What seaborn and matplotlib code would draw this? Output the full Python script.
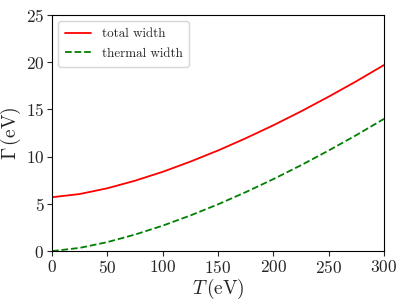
import numpy as np
import pandas as pd
import matplotlib
matplotlib.use("Agg")
import matplotlib.pyplot as plt
import seaborn as sns

# values
T = [0, 25, 50, 75, 100, 125, 150, 175, 200, 225, 250, 275, 300]
thermal = [0.0, 0.34, 0.95, 1.75, 2.69, 3.77, 4.95, 6.24, 7.62, 9.09, 10.65, 12.28, 14.0]
total = [5.7, 6.04, 6.65, 7.45, 8.39, 9.47, 10.65, 11.94, 13.32, 14.79, 16.35, 17.98, 19.7]

df = pd.DataFrame({"T": T, "total": total, "thermal": thermal})

sns.set_style("ticks")
plt.rcParams["font.family"] = "serif"
plt.rcParams["font.serif"] = ["cmr10", "DejaVu Serif"]
plt.rcParams["mathtext.fontset"] = "cm"
plt.rcParams["axes.formatter.use_mathtext"] = True

fig = plt.figure(figsize=(4.06, 3.04), dpi=100)
ax = fig.add_axes([0.128, 0.174, 0.818, 0.777])

sns.lineplot(data=df, x="T", y="total", color="red", lw=1.3, label="total width", ax=ax)
sns.lineplot(data=df, x="T", y="thermal", color="green", lw=1.3, ls="--", label="thermal width", ax=ax)

ax.set_xlim(0, 300)
ax.set_ylim(0, 25)
ax.set_xticks([0, 50, 100, 150, 200, 250, 300])
ax.set_yticks([0, 5, 10, 15, 20, 25])
ax.tick_params(labelsize=12.5, direction="out", length=3.5, width=0.8, pad=2)
for s in ax.spines.values():
    s.set_linewidth(0.8)
    s.set_color("black")
ax.set_xlabel(r"$T\,$(eV)", fontsize=14, labelpad=1)
ax.set_ylabel(r"$\Gamma\,$(eV)", fontsize=14, labelpad=2)
ax.legend(loc="upper left", fontsize=9.4, frameon=True, framealpha=0.8,
          edgecolor="#cccccc", handlelength=2.0, borderpad=0.5, labelspacing=0.6)

fig.savefig("out.png", dpi=100)
